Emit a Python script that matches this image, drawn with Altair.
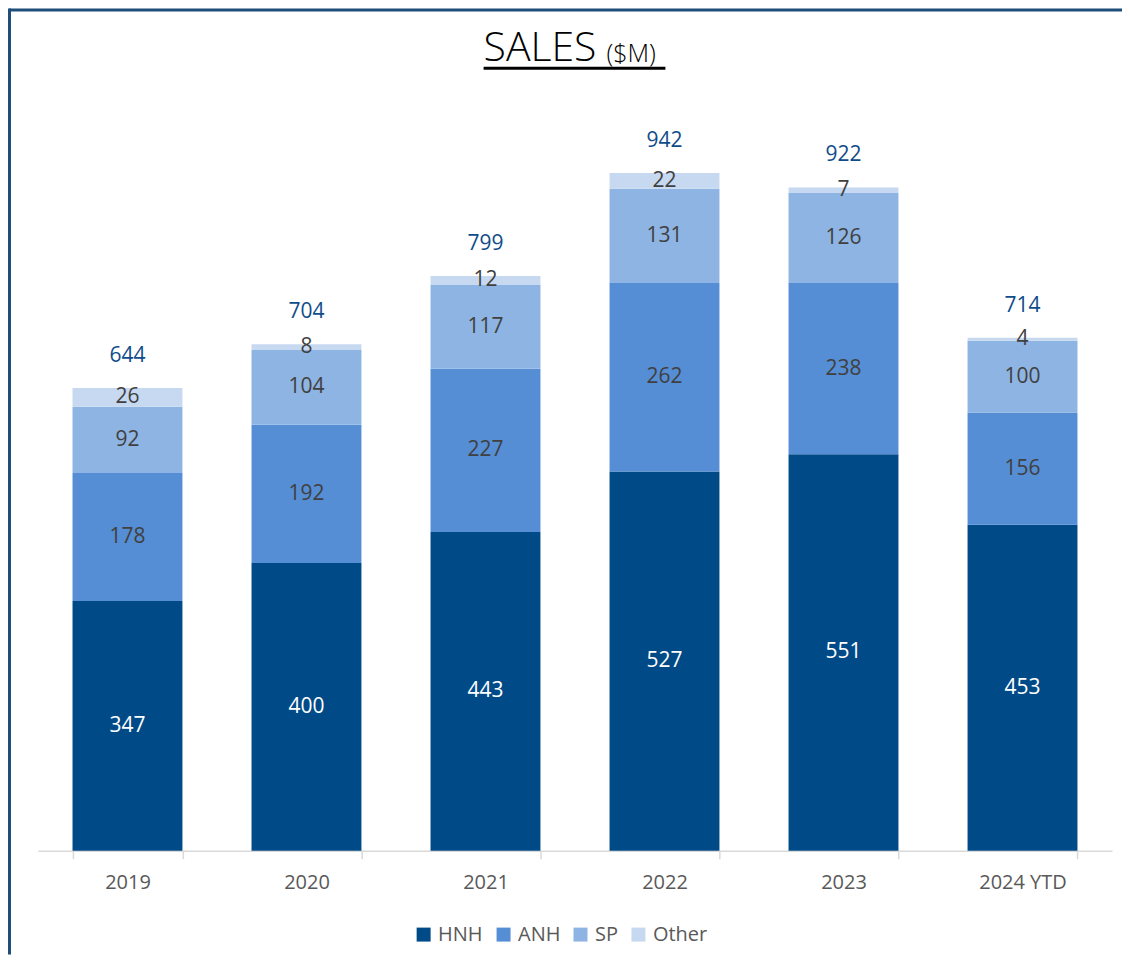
import altair as alt
import pandas as pd

years = ["2019", "2020", "2021", "2022", "2023", "2024 YTD"]
series = ["HNH", "ANH", "SP", "Other"]
hnh = [347, 400, 443, 527, 551, 453]
anh = [178, 192, 227, 262, 238, 156]
sp = [92, 104, 117, 131, 126, 100]
other = [26, 8, 12, 22, 7, 4]
totals = [644, 704, 799, 942, 922, 714]
colors = ["#004A87", "#558ED5", "#8EB4E3", "#C6D9F1"]
label_colors = ["#FFFFFF", "#404040", "#404040", "#404040"]

FONT = "Open Sans"
rows = []
vals = {"HNH": hnh, "ANH": anh, "SP": sp, "Other": other}
for i, y in enumerate(years):
    base = 0
    for k, s in enumerate(series):
        v = vals[s][i]
        rows.append({"year": y, "series": s, "order": k, "value": v,
                     "y0": base, "y1": base + v, "mid": base + v / 2,
                     "lc": label_colors[k]})
        base += v
df = pd.DataFrame(rows)
tot = pd.DataFrame({"year": years, "total": totals,
                    "top": [sum(vals[s][i] for s in series) for i in range(len(years))]})

xenc = alt.X("year:N", sort=years, title=None,
             scale=alt.Scale(paddingInner=0.386, paddingOuter=0.193),
             axis=alt.Axis(labelAngle=0, labelFont=FONT, labelFontSize=20,
                           labelColor="#595959", domainColor="#D9D9D9",
                           domainWidth=1.5, tickColor="#D9D9D9", tickWidth=1.5,
                           tickSize=8, tickBand="extent", labelPadding=14))
yscale = alt.Scale(domain=[0, 1000], nice=False)

bars = alt.Chart(df).mark_bar().encode(
    x=xenc,
    y=alt.Y("y0:Q", scale=yscale, axis=None),
    y2="y1:Q",
    color=alt.Color("series:N", sort=series,
                    scale=alt.Scale(domain=series, range=colors),
                    legend=alt.Legend(title=None, orient="none", direction="horizontal",
                                      legendX=376, legendY=794, symbolType="square",
                                      symbolSize=196, symbolStrokeWidth=0,
                                      labelFont=FONT, labelFontSize=20,
                                      labelColor="#595959", columnPadding=10,
                                      labelOffset=4.5)),
    order="order:Q",
)

seg_labels = alt.Chart(df).mark_text(font=FONT, fontSize=21, baseline="middle").encode(
    x=alt.X("year:N", sort=years),
    y=alt.Y("mid:Q", scale=yscale),
    text="value:Q",
    color=alt.Color("lc:N", scale=None),
)

tot_labels = alt.Chart(tot).mark_text(font=FONT, fontSize=21, baseline="middle",
                                      color="#0F4C8A", dy=-32).encode(
    x=alt.X("year:N", sort=years),
    y=alt.Y("top:Q", scale=yscale),
    text="total:Q",
)

title_df = pd.DataFrame({"t": ["SALES"]})
title1 = alt.Chart(title_df).mark_text(font=FONT, fontSize=41, fontWeight=300, align="left",
                                       baseline="alphabetic", color="#000000").encode(
    x=alt.value(446), y=alt.value(-70), text="t:N")
title2 = alt.Chart(pd.DataFrame({"t": ["($M)"]})).mark_text(
    font=FONT, fontSize=25, fontWeight=300, align="left", baseline="alphabetic",
    color="#000000").encode(
    x=alt.value(569), y=alt.value(-69), text="t:N")
underline = alt.Chart(title_df).mark_rule(color="#000000", strokeWidth=3).encode(
    x=alt.value(446), x2=alt.value(628), y=alt.value(-63))

frame_top = alt.Chart(title_df).mark_rule(color="#1F4E79", strokeWidth=3).encode(
    x=alt.value(-29), x2=alt.value(1090), y=alt.value(-121.5))
frame_left = alt.Chart(title_df).mark_rule(color="#1F4E79", strokeWidth=3).encode(
    x=alt.value(-28.5), y=alt.value(-123), y2=alt.value(824))

chart = alt.layer(bars, seg_labels, tot_labels, title1, title2, underline,
                  frame_top, frame_left).properties(
    width=1075, height=720,
    autosize=alt.AutoSizeParams(type="none"),
    padding={"left": 30, "top": 123, "right": 10, "bottom": 104},
).configure_view(stroke=None).configure_axis(grid=False)

chart.save("out.html", embed_options={"renderer": "svg", "actions": False})
